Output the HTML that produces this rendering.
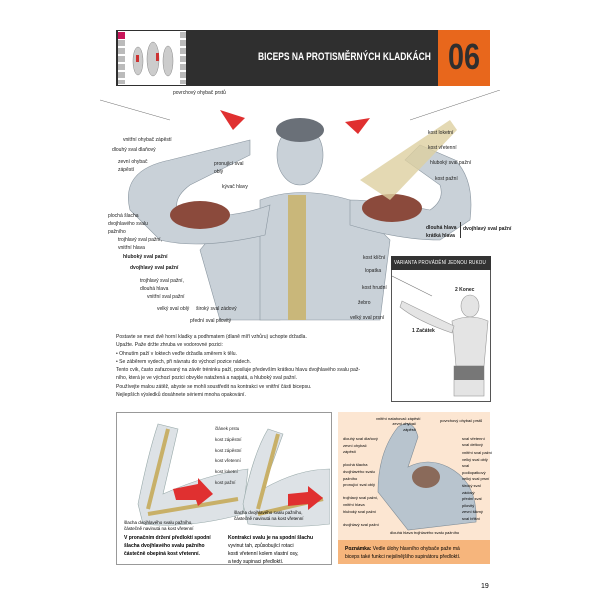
<!DOCTYPE html><html><head><meta charset="utf-8"><style>
body{margin:0;width:600px;height:600px;background:#fff;position:relative;overflow:hidden;font-family:"Liberation Sans",sans-serif;}
.a{position:absolute;white-space:nowrap;}
.l{font-size:5px;color:#222;}
.b{font-weight:bold;}
p{margin:0}
</style></head><body>
<!-- header -->
<div class="a" style="left:116px;top:30px;width:322px;height:56px;background:#2f2f2f"></div>
<div class="a" style="left:118px;top:31px;width:68px;height:54px;background:#fff"></div>
<div class="a" style="left:118px;top:32px;width:7px;height:7px;background:#c8155a"></div>
<div class="a" style="left:118px;top:40px;width:7px;height:44px;background:repeating-linear-gradient(#bbb 0 6px,#fff 6px 8px)"></div>
<div class="a" style="left:180px;top:32px;width:6px;height:52px;background:repeating-linear-gradient(#bbb 0 6px,#fff 6px 8px)"></div>
<svg class="a" style="left:128px;top:33px" width="50" height="50"><g fill="#ccc" stroke="#888" stroke-width=".5"><ellipse cx="10" cy="28" rx="5" ry="14"/><ellipse cx="25" cy="26" rx="6" ry="17"/><ellipse cx="40" cy="28" rx="5" ry="15"/></g><rect x="8" y="22" width="3" height="7" fill="#c33"/><rect x="28" y="20" width="3" height="8" fill="#c33"/></svg>
<div class="a" style="left:258px;top:51px;font-size:11px;font-weight:bold;color:#fff;transform:scaleX(.77);transform-origin:left">BICEPS NA PROTISMĚRNÝCH KLADKÁCH</div>
<div class="a" style="left:438px;top:30px;width:52px;height:56px;background:#e8671c"></div>
<div class="a" style="left:442px;top:36px;width:44px;text-align:center;font-size:36px;font-weight:bold;color:#2f2f2f;transform:scaleX(.8)">06</div>
<!-- main figure -->
<svg class="a" style="left:100px;top:90px" width="400" height="240">
<g stroke="#444" stroke-width=".4" fill="none"><line x1="0" y1="10" x2="70" y2="30"/><line x1="400" y1="0" x2="310" y2="30"/></g>
<path d="M120 20 L145 28 L133 40 Z" fill="#e03030"/><path d="M270 28 L245 32 L258 44 Z" fill="#e03030"/>
<g fill="#c9d1d8" stroke="#8a96a0" stroke-width=".6">
<path d="M100 160 Q140 110 170 130 L190 160 L180 230 L120 230 Z"/>
<path d="M160 110 Q200 95 250 110 L290 150 L280 230 L160 230 Z"/>
<path d="M30 120 Q20 80 70 70 L150 50 L150 65 L90 95 Q70 110 80 125 Q130 130 170 115 L165 145 Q100 160 60 150 Z"/>
<path d="M370 130 Q375 90 355 70 L320 55 L305 70 L340 95 Q345 110 330 120 Q280 110 250 110 L250 135 Q300 150 340 150 Z"/>
<ellipse cx="200" cy="65" rx="23" ry="30"/>
</g>
<ellipse cx="200" cy="40" rx="24" ry="12" fill="#6a7078"/>
<ellipse cx="100" cy="125" rx="30" ry="14" fill="#8b4a3c"/><ellipse cx="292" cy="118" rx="30" ry="14" fill="#8b4a3c"/>
<rect x="188" y="105" width="18" height="125" fill="#c9b77a"/>
<path d="M260 90 L350 30 L357 40 L290 110 Z" fill="#ddd0a0" opacity=".8"/>
</svg>
<div class="a l" style="left:173px;top:90px">povrchový ohybač prstů</div>
<div class="a l" style="left:123px;top:137px">vnitřní ohybač zápěstí</div>
<div class="a l" style="left:112px;top:147px">dlouhý sval dlaňový</div>
<div class="a l" style="left:118px;top:158px;line-height:8px;white-space:normal;width:40px">zevní ohybač zápěstí</div>
<div class="a l" style="left:214px;top:160px;line-height:8px;white-space:normal;width:30px">pronující sval oblý</div>
<div class="a l" style="left:222px;top:184px">kývač hlavy</div>
<div class="a l" style="left:108px;top:212px;line-height:8px;white-space:normal;width:50px">plochá šlacha dvojhlavého svalu pažního</div>
<div class="a l" style="left:118px;top:236px;line-height:8px;white-space:normal;width:50px">trojhlavý sval pažní, vnitřní hlava</div>
<div class="a l b" style="left:123px;top:254px">hluboký sval pažní</div>
<div class="a l b" style="left:130px;top:265px">dvojhlavý sval pažní</div>
<div class="a l" style="left:140px;top:277px;line-height:8px;white-space:normal;width:50px">trojhlavý sval pažní, dlouhá hlava</div>
<div class="a l" style="left:147px;top:294px">vnitřní sval pažní</div>
<div class="a l" style="left:157px;top:306px">velký sval oblý</div>
<div class="a l" style="left:196px;top:306px">široký sval zádový</div>
<div class="a l" style="left:190px;top:318px">přední sval pilovitý</div>
<div class="a l" style="left:428px;top:130px">kost loketní</div>
<div class="a l" style="left:428px;top:145px">kost vřetenní</div>
<div class="a l" style="left:430px;top:160px">hluboký sval pažní</div>
<div class="a l" style="left:435px;top:176px">kost pažní</div>
<div class="a l b" style="left:426px;top:224px;line-height:8px">dlouhá hlava<br>krátká hlava</div>
<div class="a" style="left:460px;top:222px;width:1px;height:16px;background:#333"></div>
<div class="a l b" style="left:463px;top:226px">dvojhlavý sval pažní</div>
<div class="a l" style="left:363px;top:255px">kost klíční</div>
<div class="a l" style="left:365px;top:268px">lopatka</div>
<div class="a l" style="left:362px;top:285px">kost hrudní</div>
<div class="a l" style="left:358px;top:300px">žebro</div>
<div class="a l" style="left:350px;top:315px">velký sval prsní</div>
<!-- variant box -->
<div class="a" style="left:391px;top:256px;width:98px;height:144px;border:1px solid #555;background:#fff"></div>
<div class="a" style="left:391px;top:256px;width:100px;height:14px;background:#333"></div>
<div class="a" style="left:394px;top:260px;font-size:5.5px;color:#fff;transform:scaleX(.82);transform-origin:left;letter-spacing:.2px">VARIANTA PROVÁDĚNÍ JEDNOU RUKOU</div>
<svg class="a" style="left:392px;top:271px" width="98" height="128"><line x1="0" y1="5" x2="40" y2="25" stroke="#777" stroke-width=".6"/><g fill="#e4e4e4" stroke="#999" stroke-width=".6"><ellipse cx="78" cy="35" rx="9" ry="11"/><path d="M60 50 Q78 42 96 50 L92 95 L64 95 Z"/><path d="M10 30 Q30 40 62 55 L60 62 Q25 50 8 36 Z"/><rect x="62" y="95" width="30" height="30"/></g><rect x="62" y="95" width="30" height="14" fill="#777"/></svg>
<div class="a l b" style="left:455px;top:287px">2 Konec</div>
<div class="a l b" style="left:412px;top:328px">1 Začátek</div>
<!-- paragraph -->
<div class="a" style="left:116px;top:333px;font-size:5.6px;line-height:8.3px;color:#222;transform:scaleX(.9);transform-origin:left">
<p>Postavte se mezi dvě horní kladky a podhmatem (dlaně míří vzhůru) uchopte držadla.</p>
<p>Upažte. Paže držte zhruba ve vodorovné pozici:</p>
<p>• Ohnutím paží v loktech veďte držadla směrem k tělu.</p>
<p>• Se záběrem vydech, při návratu do výchozí pozice nádech.</p>
<p>Tento cvik, často zařazovaný na závěr tréninku paží, posiluje především krátkou hlavu dvojhlavého svalu paž-</p>
<p>ního, která je ve výchozí pozici obvykle natažená a napjatá, a hluboký sval pažní.</p>
<p>Používejte malou zátěž, abyste se mohli soustředit na kontrakci ve vnitřní části bicepsu.</p>
<p>Nejlepších výsledků dosáhnete sériemi mnoha opakování.</p>
</div>
<!-- bottom left box -->
<div class="a" style="left:116px;top:412px;width:214px;height:151px;border:1px solid #999;background:#fff"></div>
<svg class="a" style="left:118px;top:414px" width="212" height="120">
<g fill="#dde2e6" stroke="#9aa" stroke-width=".6"><path d="M20 90 Q30 40 40 10 L60 15 L45 80 Q90 60 130 55 L125 100 Q70 115 25 110 Z"/><path d="M125 90 Q135 40 150 15 L165 20 L145 75 Q180 55 212 55 L212 110 Q170 115 130 110 Z"/></g>
<g stroke="#c8b068" stroke-width="4" fill="none"><path d="M30 95 L50 15"/><path d="M30 100 L120 85"/><path d="M140 95 L160 20"/><path d="M140 100 L205 85"/></g>
<path d="M55 75 L80 70 L80 64 L95 80 L80 92 L78 86 L58 86 Z" fill="#e03030"/>
<path d="M170 80 L190 78 L190 72 L205 84 L190 96 L190 90 L170 92 Z" fill="#e03030"/>
</svg>
<div class="a" style="left:215px;top:424px;font-size:4.5px;line-height:10.8px;color:#222">článek prstu<br>kost zápěstní<br>kost zápěstní<br>kost vřetenní<br>kost loketní<br>kost pažní</div>
<div class="a" style="left:124px;top:520px;font-size:4.5px;line-height:6px">šlacha dvojhlavého svalu pažního,<br>částečně navinutá na kost vřetenní</div>
<div class="a" style="left:234px;top:510px;font-size:4.5px;line-height:6px">šlacha dvojhlavého svalu pažního,<br>částečně navinutá na kost vřetenní</div>
<div class="a b" style="left:124px;top:534px;font-size:5px;line-height:8px">V pronačním držení předloktí spodní<br>šlacha dvojhlavého svalu pažního<br>částečně obepíná kost vřetenní.</div>
<div class="a" style="left:228px;top:534px;font-size:5px;line-height:8px"><b>Kontrakcí svalu je na spodní šlachu</b><br>vyvinut tah, způsobující rotaci<br>kosti vřetenní kolem vlastní osy,<br>a tedy supinaci předloktí.</div>
<!-- bottom right box -->
<div class="a" style="left:338px;top:412px;width:152px;height:128px;background:#fce6d2"></div>
<div class="a" style="left:338px;top:540px;width:152px;height:24px;background:#f6b57c"></div>
<svg class="a" style="left:338px;top:412px" width="152" height="128">
<g fill="#b8c4ce" stroke="#7f8c96" stroke-width=".6"><path d="M40 80 Q40 40 60 15 Q75 5 80 25 L70 55 Q90 45 110 55 Q140 70 138 110 L70 118 Z"/></g>
<ellipse cx="88" cy="65" rx="14" ry="11" fill="#8a6a5a"/>
</svg>
<div class="a" style="left:376px;top:416px;font-size:4px;line-height:5.4px;text-align:right;width:40px">vnitřní natahovač zápěstí<br>zevní ohybač<br>zápěstí</div>
<div class="a" style="left:343px;top:436px;font-size:4px;line-height:6.6px">dlouhý sval dlaňový<br>zevní ohybač<br>zápěstí<br><br>plochá šlacha<br>dvojhlavého svalu<br>pažního<br>pronující sval oblý<br><br>trojhlavý sval pažní,<br>vnitřní hlava<br>hluboký sval pažní<br><br>dvojhlavý sval pažní</div>
<div class="a" style="left:440px;top:418px;font-size:4px">povrchový ohybač prstů</div>
<div class="a" style="left:462px;top:436px;font-size:4px;line-height:5.5px">sval vřetenní<br>sval deltový</div>
<div class="a" style="left:462px;top:450px;font-size:4px;line-height:6.6px">vnitřní sval pažní<br>velký sval oblý<br>sval<br>podlopatkový<br>velký sval prsní<br>široký sval<br>zádový<br>přední sval<br>pilovitý<br>zevní šikmý<br>sval břišní</div>
<div class="a" style="left:390px;top:530px;font-size:4px">dlouhá hlava trojhlavého svalu pažního</div>
<div class="a" style="left:345px;top:545px;font-size:5px;line-height:8px"><b>Poznámka:</b> Vedle úlohy hlavního ohybače paže má<br>biceps také funkci nejsilnějšího supinátoru předloktí.</div>
<div class="a" style="left:481px;top:583px;font-size:7px">19</div>
</body></html>
